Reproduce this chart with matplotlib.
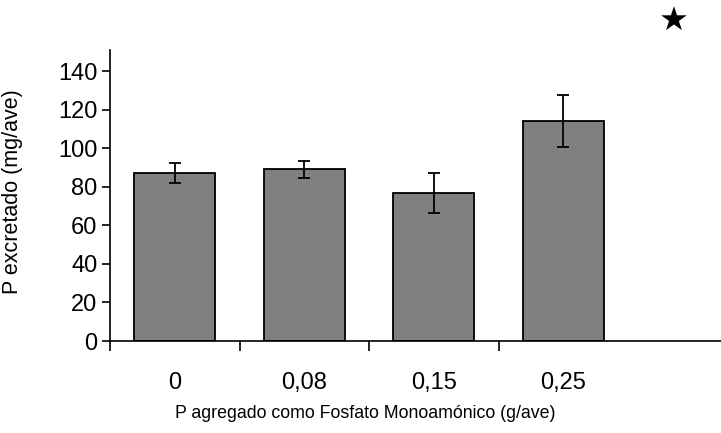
import matplotlib
matplotlib.use('Agg')
import matplotlib.pyplot as plt
import numpy as np

# data
doses = ['0', '0,08', '0,15', '0,25']
p_excr = [87, 89, 76.7, 114]
p_err = [5.3, 4.3, 10.3, 13.5]

plt.rcParams['font.family'] = ['Liberation Sans', 'DejaVu Sans']

fig = plt.figure(figsize=(7.21, 4.33), dpi=100)
ax = fig.add_axes([110/721, 1 - 341/433, 1 - 110/721, 291/433])

x = np.arange(len(doses))
ax.bar(x, p_excr, width=0.623, color='#808080', edgecolor='black', linewidth=1.3,
       yerr=p_err, capsize=4.5, error_kw=dict(elinewidth=1.3, capthick=1.3, ecolor='black'))

ax.set_xlim(-0.5, (721 - 110) / 129.5 - 0.5)
ax.set_ylim(0, 150.9)
ax.set_yticks(np.arange(0, 141, 20))
ax.tick_params(axis='y', labelsize=17, length=6, width=1.2, direction='out', pad=3)

# category boundary ticks as in the reference, labels centred under bars
ax.set_xticks([-0.5, 0.5, 1.5, 2.5])
ax.set_xticklabels([])
ax.tick_params(axis='x', length=7, width=1.2, direction='out')
ax.set_xticks(x, minor=True)
ax.set_xticklabels(doses, minor=True)
ax.tick_params(axis='x', which='minor', length=0, labelsize=17, pad=22.5)

ax.spines['top'].set_visible(False)
ax.spines['right'].set_visible(False)
ax.spines['left'].set_linewidth(1.2)
ax.spines['bottom'].set_linewidth(1.2)

ax.set_ylabel('P excretado (mg/ave)', fontsize=15.5)
ax.yaxis.set_label_coords(-(110 - 23) / 611, (341 - 192) / 291)
fig.text(365 / 721, 1 - 413 / 433,
         'P agregado como Fosfato Monoamónico (g/ave)', fontsize=12.8,
         ha='center', va='center')

fig.text(673.5 / 721, 1 - 21.5 / 433, '\u2605', fontsize=24, ha='center', va='center',
         family=['DejaVu Sans'])

fig.savefig('out.png', dpi=100)
